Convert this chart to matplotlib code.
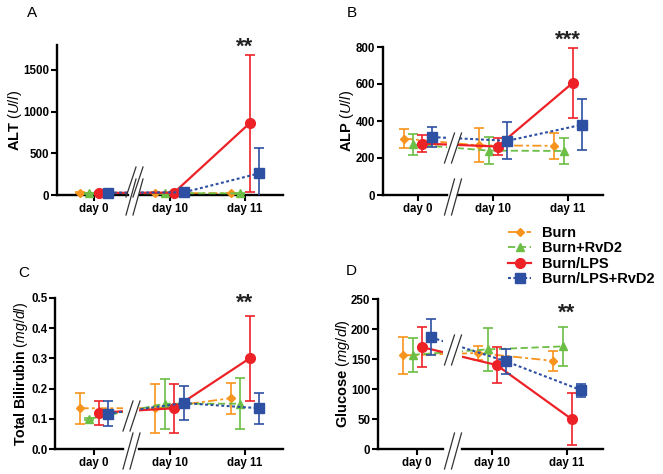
import matplotlib
matplotlib.use("Agg")
import matplotlib.pyplot as plt
from matplotlib.lines import Line2D
from matplotlib.ticker import FormatStrFormatter

plt.rcParams["font.family"] = ["Liberation Sans", "DejaVu Sans"]
plt.rcParams["mathtext.fontset"] = "custom"
plt.rcParams["mathtext.rm"] = "Liberation Sans"
plt.rcParams["mathtext.it"] = "Liberation Sans:italic"
plt.rcParams["mathtext.bf"] = "Liberation Sans:bold"

# ---------------- data ----------------
days = ["day 0", "day 10", "day 11"]
groups = ["Burn", "Burn+RvD2", "Burn/LPS", "Burn/LPS+RvD2"]

alt_mean = [[25, 25, 20], [22, 20, 20], [25, 28, 860], [28, 32, 260]]
alt_sd = [[10, 8, 8], [8, 8, 8], [10, 10, 820], [10, 10, 300]]

alp_mean = [[305, 268, 266], [273, 240, 238], [278, 262, 605], [313, 293, 380]]
alp_sd = [[53, 92, 70], [55, 72, 68], [47, 46, 189], [55, 99, 137]]

bili_mean = [[0.135, 0.135, 0.168], [0.100, 0.150, 0.150],
             [0.120, 0.135, 0.300], [0.117, 0.152, 0.135]]
bili_sd = [[0.052, 0.081, 0.051], [0.004, 0.083, 0.085],
           [0.040, 0.081, 0.141], [0.042, 0.056, 0.052]]

glu_mean = [[156, 160, 147], [157, 166, 171], [170, 140, 50], [186, 146, 98]]
glu_sd = [[31, 11, 17], [28, 36, 32], [33, 30, 44], [30, 21, 11]]

stars = ["**", "***", "**", "**"]

# ---------------- styles ----------------
colors = ["#F7941D", "#6CBE45", "#EC2227", "#2E50A2"]
markers = ["D", "^", "o", "s"]
msizes = [4.0, 6.0, 7.0, 6.5]
lstyles = [(0, (5, 1.8, 1.6, 1.8)), (0, (4, 2)), "-", (0, (1.4, 1.2))]
lwidths = [1.3, 1.3, 1.6, 1.5]
offsets = [-0.19, -0.06, 0.06, 0.19]

W, H = 663, 474
fig = plt.figure(figsize=(W / 100, H / 100), dpi=100)


def fx(px):
    return px / W


def fy(py):
    return 1 - py / H


TICK_FS = 8.3

panels = [
    dict(letter="A", mean=alt_mean, sd=alt_sd, ylim=(0, 1800), yticks=[0, 500, 1000, 1500],
         fmt="%d", ylabel=r"ALT $\mathit{(U/l)}$", star=stars[0], star_y=1775,
         x0=57, d0=94, u=75.5, bl=128, br=140, x1=283, yt=45, yb=195,
         lpos=(32, 13), ylx=15, lfs=10.5, brk=182),
    dict(letter="B", mean=alp_mean, sd=alp_sd, ylim=(0, 800), yticks=[0, 200, 400, 600, 800],
         fmt="%d", ylabel=r"ALP $\mathit{(U/l)}$", star=stars[1], star_y=835,
         x0=383, d0=418, u=75, bl=447, br=458, x1=603, yt=47, yb=195,
         lpos=(352, 13), ylx=347, lfs=10.5, brk=148),
    dict(letter="C", mean=bili_mean, sd=bili_sd, ylim=(0, 0.5), yticks=[0, 0.1, 0.2, 0.3, 0.4, 0.5],
         fmt="%.1f", ylabel=r"Total Bilirubin $\mathit{(mg/dl)}$", star=stars[2], star_y=0.482,
         x0=55, d0=94, u=75.5, bl=123, br=139, x1=283, yt=298, yb=449,
         lpos=(24, 273), ylx=21, lfs=10.2, brk=416),
    dict(letter="D", mean=glu_mean, sd=glu_sd, ylim=(0, 250), yticks=[0, 50, 100, 150, 200, 250],
         fmt="%d", ylabel=r"Glucose $\mathit{(mg/dl)}$", star=stars[3], star_y=226,
         x0=378, d0=417, u=75, bl=443, br=462, x1=603, yt=299, yb=449,
         lpos=(351, 271), ylx=343, lfs=10.5, brk=350),
]


def slash(xc, yc, h=18, w=5):
    fig.add_artist(Line2D([fx(xc - w), fx(xc + w)], [fy(yc + h), fy(yc - h)],
                          transform=fig.transFigure, color="#333333", lw=0.9))


for p in panels:
    hgt = (p["yb"] - p["yt"]) / H
    axL = fig.add_axes([fx(p["x0"]), fy(p["yb"]), (p["bl"] - p["x0"]) / W, hgt])
    axR = fig.add_axes([fx(p["br"]), fy(p["yb"]), (p["x1"] - p["br"]) / W, hgt])
    axL.set_xlim((p["x0"] - p["d0"]) / p["u"], (p["bl"] - p["d0"]) / p["u"])
    axR.set_xlim((p["br"] - p["d0"]) / p["u"], (p["x1"] - p["d0"]) / p["u"])
    for ax in (axL, axR):
        ax.set_ylim(*p["ylim"])
        ax.patch.set_alpha(0)
        for s in ("top", "right"):
            ax.spines[s].set_visible(False)
        ax.spines["bottom"].set_linewidth(1.7)
        ax.spines["left"].set_linewidth(1.7)
        ax.tick_params(axis="x", length=4, width=1.5, pad=2, labelsize=TICK_FS)
        ax.tick_params(axis="y", length=4, width=1.5, pad=1.5, labelsize=TICK_FS)
    axR.spines["left"].set_visible(False)
    axR.tick_params(axis="y", left=False, labelleft=False)
    axL.set_yticks(p["yticks"])
    axL.yaxis.set_major_formatter(FormatStrFormatter(p["fmt"]))
    axL.set_xticks([0])
    axL.set_xticklabels(days[:1])
    axR.set_xticks([1, 2])
    axR.set_xticklabels(days[1:])
    for ax in (axL, axR):
        for lab in ax.get_xticklabels() + ax.get_yticklabels():
            lab.set_fontweight("bold")

    for g in range(4):
        xs = [i + offsets[g] for i in range(3)]
        for ax, idx in ((axL, [0]), (axR, [1, 2])):
            ax.errorbar(xs, p["mean"][g], yerr=p["sd"][g], color=colors[g], ls=lstyles[g],
                        lw=lwidths[g], elinewidth=1.2, capsize=3.5, capthick=1.2, zorder=2 + g)
            ax.plot([xs[i] for i in idx], [p["mean"][g][i] for i in idx], ls="none",
                    marker=markers[g], ms=msizes[g], color=colors[g], mec=colors[g],
                    clip_on=False, zorder=3 + g)

    axR.text(2, p["star_y"], p["star"], ha="center", va="center", fontsize=16,
             fontweight="bold", color="#222222")

    fig.text(fx(p["ylx"]), fy((p["yt"] + p["yb"]) / 2), p["ylabel"], rotation=90,
             ha="center", va="center", fontsize=p["lfs"], fontweight="bold")
    fig.text(fx(p["lpos"][0]), fy(p["lpos"][1]), p["letter"], ha="center", va="center",
             fontsize=11)

    gc = (p["bl"] + p["br"]) / 2
    for dx in (-3, 4):
        slash(gc + dx, p["yb"] + 2)
        slash(gc + dx, p["brk"], h=15)

handles = [Line2D([], [], color=colors[g], ls=lstyles[g], lw=lwidths[g], marker=markers[g],
                  ms=msizes[g], mec=colors[g]) for g in range(4)]
fig.legend(handles, groups, loc="upper left", bbox_to_anchor=(fx(508), fy(226)),
           frameon=False, borderpad=0, borderaxespad=0, handlelength=1.6,
           handletextpad=0.7, labelspacing=0.1, prop=dict(size=10.5, weight="bold"))

fig.savefig("out.png", dpi=100)
